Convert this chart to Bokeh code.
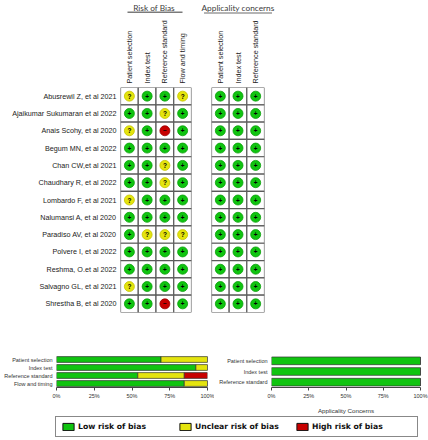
from bokeh.plotting import figure
from bokeh.models import (FactorRange, Range1d, Label, BoxAnnotation, FixedTicker,
                          Legend, LegendItem, ColumnDataSource)
from bokeh.layouts import row, column
from bokeh.embed import file_html
from bokeh.resources import INLINE

# ---------------- data ----------------
studies = [
    "Abusrewil Z, et al 2021",
    "Ajaikumar Sukumaran et al 2022",
    "Anais Scohy, et al 2020",
    "Begum MN, et al 2022",
    "Chan CW,et al 2021",
    "Chaudhary R, et al 2022",
    "Lombardo F, et al 2021",
    "Nalumansi A, et al 2020",
    "Paradiso AV, et al 2020",
    "Polvere I, et al 2022",
    "Reshma, O.et al 2022",
    "Salvagno GL, et al 2021",
    "Shrestha B, et al 2020",
]
rob_domains = ["Patient selection", "Index test", "Reference standard", "Flow and timing"]
app_domains = ["Patient selection", "Index test", "Reference standard"]

# "+" low risk, "?" unclear, "-" high risk
rob_patient_selection = ["?", "+", "?", "+", "+", "+", "?", "+", "+", "+", "+", "?", "+"]
rob_index_test = ["+", "+", "+", "+", "+", "+", "+", "+", "?", "+", "+", "+", "+"]
rob_reference_standard = ["+", "?", "-", "+", "?", "?", "+", "+", "?", "+", "+", "+", "-"]
rob_flow_timing = ["?", "+", "+", "+", "+", "+", "+", "+", "?", "+", "+", "+", "+"]
app_patient_selection = ["+"] * 13
app_index_test = ["+"] * 13
app_reference_standard = ["+"] * 13

section_titles = ["Risk of Bias", "Applicality concerns"]
legend_labels = ["Low risk of bias", "Unclear risk of bias", "High risk of bias"]
tick_values = [0, 25, 50, 75, 100]
tick_labels = ["0%", "25%", "50%", "75%", "100%"]

rob_table = [rob_patient_selection, rob_index_test, rob_reference_standard, rob_flow_timing]
app_table = [app_patient_selection, app_index_test, app_reference_standard]

# ---------------- styles ----------------
GREEN, YELLOW, RED = "#10c410", "#e4e40e", "#c80000"
fill_of = {"+": GREEN, "?": YELLOW, "-": RED}
edge_of = {"+": "#0a9e0a", "?": "#c4c400", "-": "#990000"}
glyph_of = {"+": "+", "?": "?", "-": "\u2212"}
LBL_FONT = "Liberation Sans"

# ---------------- title strip ----------------
ft = figure(width=428, height=17, x_range=Range1d(0, 428), y_range=Range1d(17, 0),
            x_axis_location=None, y_axis_location=None, toolbar_location=None,
            output_backend="svg", min_border=0)
ft.xgrid.visible = False
ft.ygrid.visible = False
ft.outline_line_color = None
ft.add_layout(Label(x=153.5, y=2.5, text=section_titles[0], text_align="center",
                    text_baseline="top", text_font="Lato", text_font_size="8.3px",
                    text_color="#404040"))
ft.add_layout(BoxAnnotation(left=127, right=182, top=11, bottom=12.6,
                            fill_color="#7a7a7a", fill_alpha=1, line_color=None))
ft.add_layout(Label(x=237.5, y=2.5, text=section_titles[1], text_align="center",
                    text_baseline="top", text_font="Lato", text_font_size="8.3px",
                    text_color="#404040"))
ft.add_layout(BoxAnnotation(left=203.5, right=271.5, top=12, bottom=13,
                            fill_color="#6a6a6a", fill_alpha=1, line_color=None))


def grid_source(domains, table):
    xs, ys, fills, edges, syms = [], [], [], [], []
    for d, col in zip(domains, table):
        for s, j in zip(studies, col):
            xs.append(d)
            ys.append(s)
            fills.append(fill_of[j])
            edges.append(edge_of[j])
            syms.append(glyph_of[j])
    return ColumnDataSource(dict(x=xs, y=ys, fill=fills, edge=edges, sym=syms))


def grid_figure(domains, table, width, left, right, show_names):
    p = figure(width=width, height=298,
               x_range=FactorRange(factors=domains),
               y_range=FactorRange(factors=studies[::-1]),
               x_axis_location="above",
               y_axis_location="left" if show_names else None,
               toolbar_location=None, output_backend="svg",
               min_border_left=left, min_border_right=right,
               min_border_top=70, min_border_bottom=3)
    src = grid_source(domains, table)
    p.rect(x="x", y="y", width=1, height=1, source=src, fill_color="white",
           line_color="#5a5a5a", line_width=1.2)
    p.scatter(x="x", y="y", size=10, source=src, fill_color="fill",
              line_color="edge", line_width=0.8)
    p.text(x="x", y="y", text="sym", source=src, text_align="center",
           text_baseline="middle", text_font_size="6.5px", text_font_style="bold",
           text_color="black")
    p.xgrid.visible = False
    p.ygrid.visible = False
    p.outline_line_color = None
    for ax in p.axis:
        ax.axis_line_color = None
        ax.major_tick_line_color = None
        ax.minor_tick_line_color = None
        ax.major_tick_out = 0
        ax.minor_tick_out = 0
        ax.major_label_text_font = LBL_FONT
        ax.major_label_text_font_size = "7.2px"
        ax.major_label_text_color = "#222222"
        ax.major_label_standoff = 4
    p.xaxis.major_label_orientation = "vertical"
    return p


fa = grid_figure(rob_domains, rob_table, 200, 120, 9, True)
fb = grid_figure(app_domains, app_table, 228, 11, 164, False)


def pct(col, code):
    return 100.0 * sum(1 for j in col if j == code) / len(col)


def bar_figure(domains, table, width, left, right, top, bottom, xlabel):
    src = ColumnDataSource(dict(
        domain=domains,
        low=[pct(c, "+") for c in table],
        unclear=[pct(c, "?") for c in table],
        high=[pct(c, "-") for c in table],
    ))
    p = figure(width=width, height=101, x_range=Range1d(0, 100),
               y_range=FactorRange(factors=domains[::-1]),
               toolbar_location=None, output_backend="svg",
               min_border_left=left, min_border_right=right,
               min_border_top=top, min_border_bottom=bottom)
    p.hbar_stack(["low", "unclear", "high"], y="domain", height=0.72, source=src,
                 fill_color=[GREEN, YELLOW, RED], line_color="#333333", line_width=0.7)
    p.xgrid.visible = False
    p.ygrid.visible = False
    p.outline_line_color = None
    p.xaxis.ticker = FixedTicker(ticks=tick_values)
    p.xaxis.major_label_overrides = {v: t for v, t in zip(tick_values, tick_labels)}
    p.xaxis.minor_tick_line_color = None
    p.xaxis.major_tick_in = 0
    p.xaxis.major_tick_out = 3
    p.xaxis.axis_line_color = "#444444"
    p.xaxis.major_tick_line_color = "#444444"
    p.xaxis.major_label_standoff = 2
    p.yaxis.axis_line_color = None
    p.yaxis.major_tick_line_color = None
    p.yaxis.minor_tick_line_color = None
    p.yaxis.major_tick_out = 0
    p.yaxis.minor_tick_out = 0
    p.yaxis.major_label_standoff = 4
    for ax in p.axis:
        ax.major_label_text_font = LBL_FONT
        ax.major_label_text_font_size = "5.5px"
        ax.major_label_text_color = "#333333"
    if xlabel:
        p.xaxis.axis_label = xlabel
        p.xaxis.axis_label_text_font = LBL_FONT
        p.xaxis.axis_label_text_font_size = "6.2px"
        p.xaxis.axis_label_text_font_style = "normal"
        p.xaxis.axis_label_text_color = "#333333"
        p.xaxis.axis_label_standoff = 5
    return p


fc = bar_figure(rob_domains, rob_table, 214, 56, 7, 39, 17, None)
fd = bar_figure(app_domains, app_table, 214, 57, 8, 40, 28, "Applicality Concerns")

# ---------------- legend strip ----------------
# legend swatches: renderers whose (single, off-range) sample lies outside the view,
# so only their legend glyphs are visible
fl = figure(width=428, height=24, x_range=Range1d(0, 1), y_range=Range1d(0, 1),
            x_axis_location=None, y_axis_location=None, toolbar_location=None,
            output_backend="svg", min_border=0)
fl.xgrid.visible = False
fl.ygrid.visible = False
fl.outline_line_color = None
items = []
for lab, col in zip(legend_labels, [GREEN, YELLOW, RED]):
    r = fl.quad(left=[-3], right=[-2], top=[-2], bottom=[-3], fill_color=col,
                line_color="#111111", line_width=1)
    items.append(LegendItem(label=lab, renderers=[r]))
leg = Legend(items=items, orientation="horizontal", location=(55, 3),
             padding=5, margin=0, spacing=0, glyph_width=14, glyph_height=9,
             label_height=9, label_standoff=3, label_width=100,
             label_text_font="DejaVu Sans", label_text_font_style="bold",
             label_text_font_size="7.7px", label_text_color="#111111",
             border_line_color="#111111", border_line_width=1,
             background_fill_color="white", background_fill_alpha=1)
fl.add_layout(leg)

layout = column(ft, row(fa, fb), row(fc, fd), fl)
open("out.html", "w").write(file_html(layout, INLINE))
